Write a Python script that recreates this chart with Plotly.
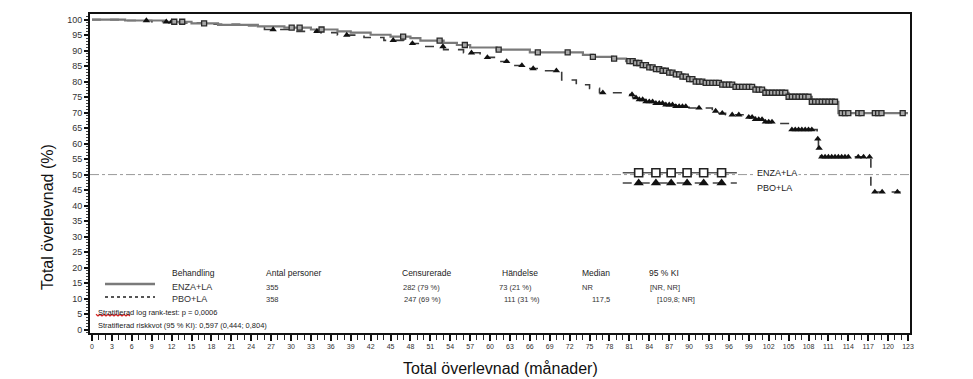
import bisect
import plotly.graph_objects as go

# ---------------- data ----------------
enza_t = [0, 5, 11, 15, 19, 25, 29, 33, 37, 39, 42, 45, 48, 49.5, 53, 55, 57, 61, 66, 74, 75.5,
          78.5, 80.5, 82, 83, 84, 85, 86, 87, 88, 89, 90, 91, 92.5, 95, 97, 100, 101.5, 105, 108.5, 112.5]
enza_s = [100, 99.7, 99.3, 98.8, 98.3, 97.8, 97.4, 96.8, 96.2, 95.8, 95.1, 94.5, 94.0, 93.2, 92.5, 91.8,
          91.0, 90.3, 89.4, 88.6, 88.0, 87.4, 86.6, 86.0, 85.3, 84.6, 84.0, 83.5, 82.9, 82.3, 81.6, 80.8,
          80.0, 79.6, 79.0, 78.3, 77.4, 76.4, 75.1, 73.5, 69.8]
enza_end = 123
enza_cens = [12.4, 13.6, 16.9, 30.1, 31.3, 34.6, 46.9, 52.4, 56.2, 61.3, 67.2, 71.7, 75.5, 78.7,
             81.0, 81.5, 82.0, 82.5, 83.0, 83.5, 84.0, 84.5, 85.0, 85.5, 86.0, 86.5, 87.0, 87.5, 88.0,
             88.5, 89.0, 89.5, 90.0, 90.5, 91.0, 91.5, 92.0, 92.5, 93.0, 93.5, 94.0, 94.5, 95.0, 95.5,
             96.0, 96.5, 97.0, 97.5, 98.0, 98.5, 99.0, 99.5, 100.0, 100.5, 101.0, 101.5, 102.0, 102.5,
             103.0, 103.5, 104.0, 104.5, 105.0, 105.5, 106.0, 106.5, 107.0, 107.5, 108.0, 108.5, 109.0,
             109.5, 110.0, 110.5, 111.0, 111.5, 112.0, 113.0, 113.5, 114.0, 115.5, 116.0, 118.0, 118.5,
             119.0, 122.2]

pbo_t = [0, 5, 9, 13, 18, 23, 26, 30, 34.5, 37, 41, 44, 47, 50, 53, 56, 58.5, 61, 63.5, 66, 68, 70.8,
         73, 75, 76.5, 80.5, 81.5, 82.5, 83.5, 85, 86.5, 88, 90, 93.5, 94.5, 95.5, 98.5, 100, 101.5, 103,
         105.2, 109.3, 109.5, 109.8, 117.4]
pbo_s = [100, 99.7, 99.3, 98.9, 98.5, 98.0, 96.8, 96.2, 95.8, 95.0, 94.2, 93.3, 92.3, 91.3, 90.3, 89.3,
         87.8, 86.5, 85.2, 84.2, 83.5, 80.5, 79.0, 77.8, 76.4, 75.8, 74.8, 74.2, 73.5, 73.0, 72.5, 72.0,
         71.5, 70.5, 69.8, 69.3, 68.5, 67.8, 67.0, 66.5, 64.5, 61.5, 58.5, 55.7, 44.4]
pbo_end = 122
pbo_cens = [8.2, 11.2, 12.0, 27.3, 33.9, 38.4, 45.4, 48.3, 52.9, 57.2, 59.6, 62.5, 64.8, 66.5, 70.0,
            77.0, 81.4, 82.0, 82.5, 83.0, 83.5, 84.0, 84.5, 85.0, 85.5, 86.0, 86.5, 87.0, 87.5, 88.0,
            88.5, 89.0, 89.5, 91.5, 94.0, 95.0, 96.5, 97.5, 99.0, 99.5, 100.0, 100.5, 101.0, 101.5,
            102.0, 102.5, 105.5, 106.0, 106.5, 107.0, 107.5, 108.0, 108.5, 109.4, 109.6, 110.0, 110.5,
            111.0, 111.5, 112.0, 112.5, 113.0, 113.5, 114.0, 115.5, 116.3, 117.2, 118.0, 119.1, 121.4]

legend_x = [82.4, 85.0, 87.3, 89.7, 92.2, 94.9]

x_ticks = list(range(0, 124, 3))
y_ticks = list(range(0, 101, 5))

header = ["Behandling", "Antal personer", "Censurerade", "Händelse", "Median", "95 % KI"]
row_enza = ["ENZA+LA", "355", "282 (79 %)", "73 (21 %)", "NR", "[NR, NR]"]
row_pbo = ["PBO+LA", "358", "247 (69 %)", "111 (31 %)", "117,5", "[109,8; NR]"]
logrank_txt = "Stratifierad log rank-test: p = 0,0006"
hr_txt = "Stratifierad riskkvot (95 % KI): 0,597 (0,444; 0,804)"


def surv_at(t, times, vals):
    i = bisect.bisect_right(times, t) - 1
    return vals[max(i, 0)]


FONT = "Liberation Sans, Arial, sans-serif"
W, H = 973, 379
L, R, T, B = 90, 63, 14, 46
PW, PH = W - L - R, H - T - B


def px(xp):
    return (xp - L) / PW


def py(yp):
    return (H - B - yp) / PH


fig = go.Figure()

# 50% reference line
fig.add_shape(type="line", xref="paper", yref="y", x0=0, x1=1, y0=50, y1=50,
              line=dict(color="#9a9a9a", width=1, dash="dashdot"), layer="below")

# curves
fig.add_trace(go.Scatter(x=pbo_t + [pbo_end], y=pbo_s + [pbo_s[-1]], mode="lines",
                         line=dict(color="#3a3a3a", width=1.6, dash="dash", shape="hv"),
                         showlegend=False, hoverinfo="skip"))
fig.add_trace(go.Scatter(x=enza_t + [enza_end], y=enza_s + [enza_s[-1]], mode="lines",
                         line=dict(color="#7a7a7a", width=2.2, shape="hv"),
                         showlegend=False, hoverinfo="skip"))
# censor marks
fig.add_trace(go.Scatter(x=pbo_cens, y=[surv_at(t, pbo_t, pbo_s) for t in pbo_cens], mode="markers",
                         marker=dict(symbol="triangle-up", size=6.5, color="#111111",
                                     line=dict(width=0)),
                         showlegend=False, hoverinfo="skip"))
fig.add_trace(go.Scatter(x=enza_cens, y=[surv_at(t, enza_t, enza_s) for t in enza_cens], mode="markers",
                         marker=dict(symbol="square", size=5, color="#a8a8a8",
                                     line=dict(width=1.3, color="#2a2a2a")),
                         showlegend=False, hoverinfo="skip"))

# in-plot legend samples
fig.add_trace(go.Scatter(x=[80.0, 97.2], y=[50.6, 50.6], mode="lines",
                         line=dict(color="#555555", width=1.6), showlegend=False, hoverinfo="skip"))
fig.add_trace(go.Scatter(x=legend_x, y=[50.6] * len(legend_x), mode="markers",
                         marker=dict(symbol="square", size=8, color="white",
                                     line=dict(width=1.6, color="#222222")),
                         showlegend=False, hoverinfo="skip"))
fig.add_trace(go.Scatter(x=[80.0, 97.2], y=[47.3, 47.3], mode="lines",
                         line=dict(color="#444444", width=1.6, dash="dash"), showlegend=False,
                         hoverinfo="skip"))
fig.add_trace(go.Scatter(x=legend_x, y=[47.3] * len(legend_x), mode="markers",
                         marker=dict(symbol="triangle-up", size=9, color="#111111"),
                         showlegend=False, hoverinfo="skip"))

annotations = []
annotations.append(dict(text="ENZA+LA", x=px(755), y=py(173), xref="paper", yref="paper",
                        xanchor="left", yanchor="middle", showarrow=False, bgcolor="white",
                        font=dict(family=FONT, size=9, color="#222")))
annotations.append(dict(text="PBO+LA", x=px(755), y=py(188), xref="paper", yref="paper",
                        xanchor="left", yanchor="middle", showarrow=False,
                        font=dict(family=FONT, size=9, color="#222")))

# table
col_x = [170, 264, 400, 500, 580, 647]
row1_x = [170, 264, 401, 497, 580, 648]
row2_x = [170, 264, 402, 502, 590, 655]
for i, h in enumerate(header):
    annotations.append(dict(text=h, x=px(col_x[i]), y=py(273), xref="paper", yref="paper",
                            xanchor="left", yanchor="middle", showarrow=False,
                            font=dict(family=FONT, size=8.5, color="#222")))
for i, v in enumerate(row_enza):
    annotations.append(dict(text=v, x=px(row1_x[i]), y=py(287), xref="paper", yref="paper",
                            xanchor="left", yanchor="middle", showarrow=False,
                            font=dict(family=FONT, size=7.5 if i else 9, color="#333")))
for i, v in enumerate(row_pbo):
    annotations.append(dict(text=v, x=px(row2_x[i]), y=py(299), xref="paper", yref="paper",
                            xanchor="left", yanchor="middle", showarrow=False,
                            font=dict(family=FONT, size=7.5 if i else 9, color="#333")))
annotations.append(dict(text=logrank_txt, x=px(96), y=py(312), xref="paper", yref="paper",
                        xanchor="left", yanchor="middle", showarrow=False,
                        font=dict(family=FONT, size=7.5, color="#222")))
annotations.append(dict(text=hr_txt, x=px(96), y=py(325), xref="paper", yref="paper",
                        xanchor="left", yanchor="middle", showarrow=False,
                        font=dict(family=FONT, size=7.5, color="#222")))

# axis titles
annotations.append(dict(text="Total överlevnad (%)", x=px(47), y=py(217), xref="paper", yref="paper",
                        xanchor="center", yanchor="middle", textangle=-90, showarrow=False,
                        font=dict(family=FONT, size=16, color="#111")))
annotations.append(dict(text="Total överlevnad (månader)", x=px(500), y=py(368), xref="paper",
                        yref="paper", xanchor="center", yanchor="middle", showarrow=False,
                        font=dict(family=FONT, size=16, color="#111")))

shapes = [
    dict(type="line", xref="paper", yref="paper", x0=px(105), x1=px(155), y0=py(284), y1=py(284),
         line=dict(color="#7a7a7a", width=2.5)),
    dict(type="line", xref="paper", yref="paper", x0=px(105), x1=px(155), y0=py(297), y1=py(297),
         line=dict(color="#555555", width=2, dash="dot")),
]
# red spell-check squiggle under "Stratifierad"
zig = []
xx = 96
k = 0
while xx <= 130:
    zig.append((px(xx), py(315 + (1.0 if k % 2 else -0.8))))
    xx += 2
    k += 1
path = "M " + " L ".join(f"{a:.5f},{b:.5f}" for a, b in zig)
shapes.append(dict(type="path", xref="paper", yref="paper", path=path,
                   line=dict(color="#d42020", width=1.2)))

fig.update_layout(
    width=W, height=H,
    margin=dict(l=L, r=R, t=T, b=B),
    plot_bgcolor="white", paper_bgcolor="white",
    showlegend=False,
    annotations=annotations,
    shapes=fig.layout.shapes + tuple(shapes),
    font=dict(family=FONT),
)
fig.update_xaxes(range=[-0.3, 123.3], tickmode="array", tickvals=x_ticks,
                 ticktext=[str(v) for v in x_ticks], ticks="outside", ticklen=6, tickwidth=1.8,
                 tickcolor="#111", showgrid=False, zeroline=False, showline=True, linecolor="#111",
                 linewidth=2, mirror=True, tickfont=dict(family=FONT, size=7, color="#333"),
                 minor=dict(dtick=1, ticks="outside", ticklen=5, tickwidth=1.2, tickcolor="#222"))
fig.update_yaxes(range=[-1.1, 101.8], tickmode="array", tickvals=y_ticks,
                 ticktext=[str(v) for v in y_ticks], ticks="outside", ticklen=4, tickwidth=2,
                 tickcolor="#111", showgrid=False, zeroline=False, showline=True, linecolor="#111",
                 linewidth=2, mirror=True, tickfont=dict(family=FONT, size=9, color="#333"),
                 minor=dict(dtick=1, ticks="outside", ticklen=2, tickwidth=1, tickcolor="#444"))

fig.write_html("out.html", config={"displayModeBar": False},
               post_script="document.body.style.margin='0px';document.body.style.overflow='hidden';")
